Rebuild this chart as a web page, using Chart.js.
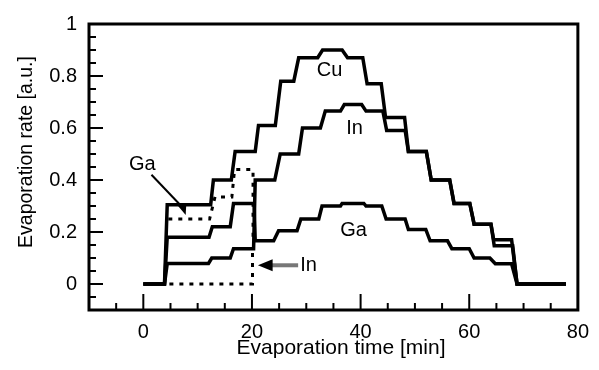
<!DOCTYPE html>
<html>
<head>
<meta charset="utf-8">
<script src="https://cdn.jsdelivr.net/npm/chart.js@4.4.1/dist/chart.umd.min.js"></script>
<style>
    html, body { margin: 0; padding: 0; background: #fff; }
    #wrap { width: 599px; height: 370px; }
</style>
</head>
<body>
<div id="wrap"><canvas id="rate-chart"></canvas></div>
<script>
// step profiles: time [min] / evaporation rate [a.u.]
var cuTime = [0, 3.9, 4.4, 12.4, 12.9, 16.2, 16.9, 20.6, 21.2, 24.3, 25.3, 27.7, 28.6, 32.1, 33.0, 36.6, 37.6, 40.4, 41.2, 43.8, 44.6, 48.1, 48.8, 52.1, 53.0, 56.4, 57.2, 60.1, 60.9, 64.0, 64.5, 67.8, 68.8, 77.8];
var cuRate = [0, 0, 0.305, 0.305, 0.40, 0.40, 0.51, 0.51, 0.61, 0.61, 0.78, 0.78, 0.87, 0.87, 0.90, 0.90, 0.87, 0.87, 0.77, 0.77, 0.64, 0.64, 0.51, 0.51, 0.40, 0.40, 0.31, 0.31, 0.23, 0.23, 0.17, 0.17, 0, 0];

var inTime = [0, 3.9, 4.4, 12.0, 12.6, 16.0, 16.6, 20.3, 20.6, 24.2, 25.2, 28.6, 29.3, 32.6, 33.5, 36.3, 37.0, 40.2, 41.0, 44.1, 44.8, 48.2, 48.8, 52.1, 53.0, 56.4, 57.2, 60.1, 60.9, 64.0, 64.6, 68.0, 68.8, 77.8];
var inRate = [0, 0, 0.079, 0.079, 0.10, 0.10, 0.136, 0.136, 0.40, 0.40, 0.50, 0.50, 0.60, 0.60, 0.665, 0.665, 0.69, 0.69, 0.665, 0.665, 0.59, 0.59, 0.51, 0.51, 0.40, 0.40, 0.31, 0.31, 0.23, 0.23, 0.147, 0.147, 0, 0];

var gaTime = [0, 3.9, 4.4, 12.1, 12.7, 16.0, 16.6, 20.4, 20.6, 24.0, 24.9, 28.3, 29.0, 32.3, 32.9, 36.3, 36.6, 40.6, 41.0, 43.9, 44.7, 48.2, 48.8, 52.0, 52.8, 56.0, 56.8, 60.0, 60.9, 63.8, 64.8, 67.8, 68.8, 77.8];
var gaRate = [0, 0, 0.18, 0.18, 0.22, 0.22, 0.31, 0.31, 0.166, 0.166, 0.205, 0.205, 0.25, 0.25, 0.30, 0.30, 0.31, 0.31, 0.30, 0.30, 0.25, 0.25, 0.21, 0.21, 0.166, 0.166, 0.136, 0.136, 0.10, 0.10, 0.078, 0.078, 0, 0];

// dotted alternatives before 20 min
var gaDotTime = [4.6, 12.2, 13.2, 16.3, 16.8, 20.2, 20.2];
var gaDotRate = [0.25, 0.25, 0.335, 0.335, 0.44, 0.44, 0.17];
var inDotTime = [4.8, 20.1, 20.1];
var inDotRate = [0, 0, 0.13];

var xTicks = [0, 20, 40, 60, 80];
var yTicks = [0, 0.2, 0.4, 0.6, 0.8, 1];

var FONT = '"Liberation Sans", Arial, Helvetica, sans-serif';

function pts(ts, vs) {
    return ts.map(function (t, i) { return {x: t, y: vs[i]}; });
}

function solid(label, ts, vs) {
    return {
        label: label,
        data: pts(ts, vs),
        borderColor: '#000',
        borderWidth: 3.5,
        pointRadius: 0,
        tension: 0,
        borderJoinStyle: 'miter',
        showLine: true
    };
}

function dotted(label, ts, vs) {
    var d = solid(label, ts, vs);
    d.borderWidth = 3;
    d.borderDash = [4, 6];
    d.borderCapStyle = 'butt';
    return d;
}

// box + inward ticks
var framePlugin = {
    id: 'frame',
    afterDatasetsDraw: function (chart) {
        var ctx = chart.ctx, a = chart.chartArea;
        var xs = chart.scales.x, ys = chart.scales.y;
        var i, p, len;
        ctx.save();
        ctx.strokeStyle = '#000';
        ctx.lineWidth = 2;
        for (i = -1; i < 16; i++) {
            p = xs.getPixelForValue(i * 5);
            len = (i % 4 === 0) ? 16 : 7;
            ctx.beginPath();
            ctx.moveTo(p, a.bottom);
            ctx.lineTo(p, a.bottom - len);
            ctx.stroke();
        }
        for (i = -1; i < 20; i++) {
            p = ys.getPixelForValue(i * 0.05);
            len = (i % 4 === 0) ? 14 : 7;
            ctx.beginPath();
            ctx.moveTo(a.left, p);
            ctx.lineTo(a.left + len, p);
            ctx.stroke();
        }
        ctx.lineWidth = 3;
        ctx.strokeRect(a.left, a.top, a.right - a.left, a.bottom - a.top);
        ctx.restore();
    }
};

// labels, arrows and axis titles
var notesPlugin = {
    id: 'notes',
    afterDraw: function (chart) {
        var ctx = chart.ctx, a = chart.chartArea;
        var xs = chart.scales.x, ys = chart.scales.y;
        function X(t) { return xs.getPixelForValue(t); }
        function Y(v) { return ys.getPixelForValue(v); }

        ctx.save();
        ctx.fillStyle = '#000';
        ctx.textAlign = 'center';
        ctx.textBaseline = 'middle';
        ctx.font = '20px ' + FONT;
        ctx.fillText('Cu', X(34.3), Y(0.82));
        ctx.fillText('In', X(38.9), Y(0.60));
        ctx.fillText('Ga', X(38.7), Y(0.207));
        ctx.fillText('Ga', X(-0.2), Y(0.46));
        ctx.textAlign = 'left';
        ctx.fillText('In', X(28.9), Y(0.072));

        // Ga leader
        ctx.strokeStyle = '#000';
        ctx.lineWidth = 2;
        ctx.beginPath();
        ctx.moveTo(X(1.5), Y(0.42));
        ctx.lineTo(X(7.2), Y(0.295));
        ctx.stroke();
        ctx.beginPath();
        ctx.moveTo(X(7.8), Y(0.265));
        ctx.lineTo(X(6.4), Y(0.30));
        ctx.lineTo(X(7.9), Y(0.305));
        ctx.closePath();
        ctx.fill();

        // In arrow
        ctx.strokeStyle = '#777';
        ctx.lineWidth = 4;
        ctx.beginPath();
        ctx.moveTo(X(28.5), Y(0.072));
        ctx.lineTo(X(23.0), Y(0.072));
        ctx.stroke();
        ctx.beginPath();
        ctx.moveTo(X(21.1), Y(0.072));
        ctx.lineTo(X(23.8), Y(0.072) - 6);
        ctx.lineTo(X(23.8), Y(0.072) + 6);
        ctx.closePath();
        ctx.fill();

        // axis titles
        ctx.textAlign = 'center';
        ctx.font = '21px ' + FONT;
        ctx.fillText('Evaporation time [min]', 341, 348);
        ctx.translate(27, 152);
        ctx.rotate(-Math.PI / 2);
        ctx.font = '19.5px ' + FONT;
        ctx.fillText('Evaporation rate [a.u.]', 0, 0);
        ctx.restore();
    }
};

new Chart(document.getElementById('rate-chart'), {
    type: 'scatter',
    data: {
        datasets: [
            solid('Cu', cuTime, cuRate),
            solid('In', inTime, inRate),
            solid('Ga', gaTime, gaRate),
            dotted('Ga (dotted)', gaDotTime, gaDotRate),
            dotted('In (dotted)', inDotTime, inDotRate)
        ]
    },
    options: {
        responsive: true,
        maintainAspectRatio: false,
        animation: false,
        layout: { padding: { left: 0, right: 17, top: 20, bottom: 0 } },
        plugins: {
            legend: { display: false },
            tooltip: { enabled: false }
        },
        scales: {
            x: {
                type: 'linear',
                min: -10,
                max: 80,
                grid: { display: false, drawTicks: false },
                border: { display: false },
                afterBuildTicks: function (s) {
                    s.ticks = xTicks.map(function (v) { return {value: v}; });
                },
                afterFit: function (s) { s.height = 60; },
                ticks: {
                    padding: 10,
                    color: '#000',
                    font: { family: FONT, size: 20 },
                    maxRotation: 0,
                    callback: function (v) { return String(v); }
                }
            },
            y: {
                min: -0.1,
                max: 1,
                grid: { display: false, drawTicks: false },
                border: { display: false },
                afterBuildTicks: function (s) {
                    s.ticks = yTicks.map(function (v) { return {value: v}; });
                },
                afterFit: function (s) { s.width = 89; },
                ticks: {
                    padding: 12,
                    color: '#000',
                    font: { family: FONT, size: 20 },
                    callback: function (v) { return String(v); }
                }
            }
        }
    },
    plugins: [framePlugin, notesPlugin]
});
</script>
</body>
</html>
